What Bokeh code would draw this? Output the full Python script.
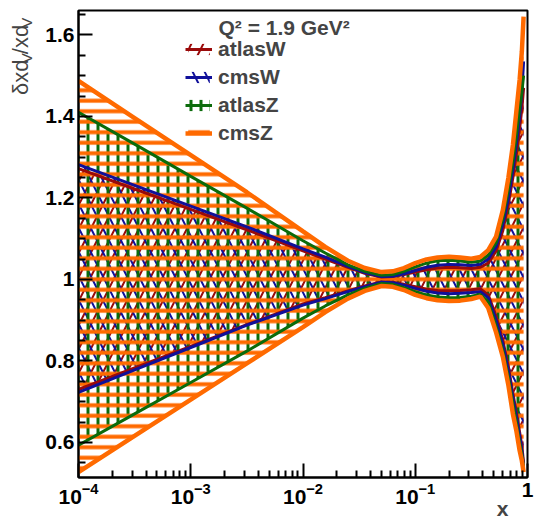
import math
from bokeh.plotting import figure
from bokeh.layouts import row
from bokeh.models import Range1d, FixedTicker, Label, Legend, LegendItem, Title
from bokeh.embed import file_html
from bokeh.resources import INLINE

# ---- data ----
x = [0.0001, 0.000316, 0.001, 0.00316, 0.01, 0.0158, 0.0251, 0.0355, 0.0501, 0.0631,
     0.0794, 0.1, 0.126, 0.158, 0.2, 0.251, 0.316, 0.38, 0.447, 0.525,
     0.603, 0.676, 0.741, 0.794, 0.851, 0.891, 0.923]

atlasW_up = [1.272, 1.222, 1.172, 1.122, 1.070, 1.050, 1.030, 1.015, 1.006, 1.007,
             1.012, 1.018, 1.024, 1.028, 1.030, 1.029, 1.027, 1.030, 1.040, 1.070,
             1.120, 1.185, 1.250, 1.305, 1.370, 1.420, 1.470]
atlasW_lo = [0.730, 0.783, 0.836, 0.889, 0.940, 0.955, 0.972, 0.984, 0.994, 0.993,
             0.988, 0.982, 0.976, 0.973, 0.972, 0.973, 0.975, 0.977, 0.962, 0.910,
             0.850, 0.785, 0.720, 0.675, 0.625, 0.590, 0.550]

cmsW_up = [1.282, 1.231, 1.180, 1.129, 1.075, 1.055, 1.032, 1.017, 1.007, 1.008,
           1.014, 1.022, 1.030, 1.035, 1.037, 1.036, 1.034, 1.037, 1.050, 1.080,
           1.135, 1.200, 1.270, 1.330, 1.400, 1.460, 1.535]
cmsW_lo = [0.723, 0.778, 0.833, 0.888, 0.937, 0.953, 0.970, 0.982, 0.993, 0.992,
           0.986, 0.978, 0.971, 0.967, 0.965, 0.966, 0.968, 0.970, 0.955, 0.900,
           0.840, 0.775, 0.710, 0.665, 0.615, 0.580, 0.540]

atlasZ_up = [1.410, 1.332, 1.253, 1.175, 1.095, 1.065, 1.036, 1.020, 1.010, 1.012,
             1.020, 1.031, 1.040, 1.046, 1.047, 1.045, 1.042, 1.045, 1.060, 1.090,
             1.150, 1.220, 1.290, 1.350, 1.420, 1.460, 1.500]
atlasZ_lo = [0.593, 0.670, 0.747, 0.824, 0.905, 0.935, 0.962, 0.978, 0.990, 0.988,
             0.980, 0.970, 0.962, 0.957, 0.955, 0.956, 0.959, 0.963, 0.945, 0.885,
             0.825, 0.760, 0.695, 0.650, 0.600, 0.570, 0.540]

cmsZ_up = [1.487, 1.396, 1.305, 1.214, 1.118, 1.080, 1.046, 1.028, 1.018, 1.020,
           1.028, 1.040, 1.049, 1.054, 1.056, 1.054, 1.051, 1.055, 1.072, 1.105,
           1.170, 1.250, 1.330, 1.410, 1.490, 1.560, 1.645]
cmsZ_lo = [0.527, 0.616, 0.705, 0.794, 0.883, 0.920, 0.953, 0.972, 0.984, 0.982,
           0.974, 0.962, 0.954, 0.949, 0.947, 0.948, 0.952, 0.958, 0.930, 0.870,
           0.810, 0.740, 0.670, 0.630, 0.580, 0.555, 0.527]

series_names = ["atlasW", "cmsW", "atlasZ", "cmsZ"]
header_text = "Q\u00b2 = 1.9 GeV\u00b2"
x_title = "x"
y_title_parts = ["\u03b4xd", "V", "/xd", "V"]

x_major = [1e-4, 1e-3, 1e-2, 1e-1, 1.0]
x_minor = [m * d for d in [1e-4, 1e-3, 1e-2, 1e-1] for m in range(2, 10)]
y_major = [0.6, 0.8, 1.0, 1.2, 1.4, 1.6]
y_major_labels = ["0.6", "0.8", "1", "1.2", "1.4", "1.6"]
y_minor = [0.55, 0.65, 0.7, 0.75, 0.85, 0.9, 0.95, 1.05, 1.1, 1.15, 1.25, 1.3, 1.35,
           1.45, 1.5, 1.55, 1.65]

# ---- styles ----
colors = {"atlasW": "#9a0a0a", "cmsW": "#10109a", "atlasZ": "#0b6b0b", "cmsZ": "#ff6a00"}
hatches = {"atlasW": "right_diagonal_line", "cmsW": "left_diagonal_line",
           "atlasZ": "vertical_line", "cmsZ": "horizontal_line"}
hweights = {"atlasW": 2, "cmsW": 2, "atlasZ": 3, "cmsZ": 4}
hscales = {"atlasW": 24, "cmsW": 24, "atlasZ": 10, "cmsZ": 10.5}
lwidths = {"atlasW": 3, "cmsW": 3, "atlasZ": 3, "cmsZ": 4.5}
FONT = "Liberation Sans"

bands = {"atlasW": (atlasW_lo, atlasW_up), "cmsW": (cmsW_lo, cmsW_up),
         "atlasZ": (atlasZ_lo, atlasZ_up), "cmsZ": (cmsZ_lo, cmsZ_up)}

# ---- left strip holding the rotated y title (page pixel coordinates) ----
tw = 42
tfig = figure(width=tw, height=519, x_range=Range1d(0, tw), y_range=Range1d(519, 0),
              output_backend="svg", toolbar_location=None, min_border=0,
              x_axis_location=None, y_axis_location=None)
tfig.outline_line_color = None
tfig.grid.visible = False
ypos = 94
for txt, size, xc, w in zip(y_title_parts, [22, 15, 22, 15], [20.4, 25.8, 20.4, 25.8],
                            [35.5, 10.0, 29.3, 10.0]):
    tfig.add_layout(Label(x=xc, y=ypos, text=txt, angle=math.pi / 2,
                          text_font=FONT, text_font_size=f"{size}px",
                          text_align="left", text_baseline="middle"))
    ypos -= w

# ---- main plot ----
p = figure(width=538 - tw, height=519, x_axis_type="log",
           x_range=Range1d(1e-4, 1.0), y_range=Range1d(0.514, 1.66),
           output_backend="svg", toolbar_location=None,
           min_border_left=76 - tw, min_border_right=11, min_border_top=10,
           min_border_bottom=42)
p.xgrid.visible = False
p.ygrid.visible = False
p.outline_line_color = "black"
p.outline_line_width = 2
p.background_fill_color = "white"

area_r = {}
for n in series_names:
    lo, up = bands[n]
    area_r[n] = p.varea(x=x, y1=lo, y2=up, fill_color=None, fill_alpha=0,
                        hatch_pattern=hatches[n], hatch_color=colors[n],
                        hatch_weight=hweights[n], hatch_scale=hscales[n])
line_r = {}
for n in series_names:
    lo, up = bands[n]
    line_r[n] = p.line(x=x, y=up, line_color=colors[n], line_width=lwidths[n])
    p.line(x=x, y=lo, line_color=colors[n], line_width=lwidths[n])

# axes
p.xaxis.ticker = FixedTicker(ticks=x_major, minor_ticks=x_minor)
p.xaxis.major_label_overrides = {1.0: "1"}
p.yaxis.ticker = FixedTicker(ticks=y_major, minor_ticks=y_minor)
p.yaxis.major_label_overrides = dict(zip(y_major, y_major_labels))
for ax in (p.xaxis[0], p.yaxis[0]):
    ax.axis_line_width = 2
    ax.axis_line_color = "black"
    ax.major_tick_in = 14
    ax.major_tick_out = 0
    ax.minor_tick_in = 7
    ax.minor_tick_out = 0
    ax.major_tick_line_width = 2
    ax.minor_tick_line_width = 2
    ax.major_tick_line_color = "black"
    ax.minor_tick_line_color = "black"
    ax.major_label_text_font = FONT
    ax.major_label_text_font_style = "bold"
    ax.major_label_text_font_size = "21px"
    ax.major_label_text_color = "black"
p.yaxis.major_label_standoff = 4
p.xaxis.major_label_standoff = 5

p.add_layout(Title(text=x_title, align="right", offset=19, standoff=-23,
                   text_font=FONT, text_font_style="bold", text_font_size="21px"),
             "below")

# legend
items = [LegendItem(label=n, renderers=[area_r[n], line_r[n]]) for n in series_names]
legend = Legend(items=items, location=(107, 332), glyph_width=27, glyph_height=14,
                label_standoff=6, spacing=4, padding=0, margin=0,
                border_line_alpha=0, background_fill_alpha=0,
                label_text_font=FONT, label_text_font_style="bold",
                label_text_font_size="21px", label_height=23)
p.add_layout(legend)

p.add_layout(Label(x=140, y=450, x_units="screen", y_units="screen", text=header_text,
                   text_font=FONT, text_font_style="bold", text_font_size="21px",
                   text_align="left", text_baseline="middle"))

layout = row(tfig, p)
open("out.html", "w").write(file_html(layout, INLINE))
